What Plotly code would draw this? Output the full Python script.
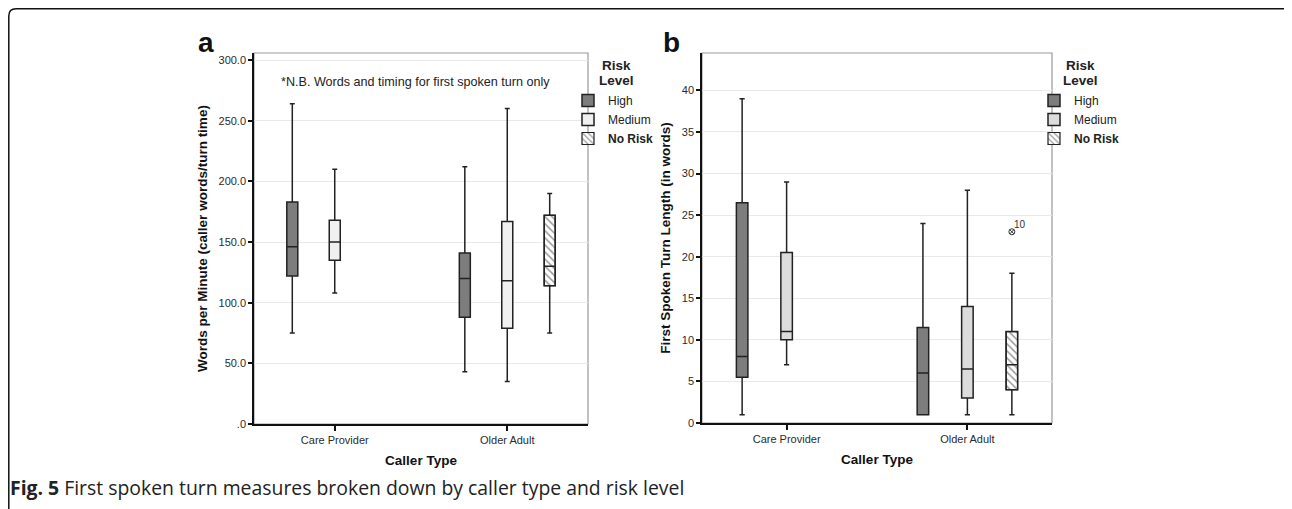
import plotly.graph_objects as go

# page body has an 8px default margin; the figure is drawn 8px in from the window edge
OFF = 8
W, H = 1292 - OFF, 509 - OFF

# ---------------- data ----------------
categories = ["Care Provider", "Older Adult"]
nr_categories = ["Older Adult"]

# Panel a: Words per Minute
a_high_low = [75, 43]
a_high_q1 = [122, 88]
a_high_med = [146, 120]
a_high_q3 = [183, 141]
a_high_up = [264, 212]

a_med_low = [108, 35]
a_med_q1 = [135, 79]
a_med_med = [150, 118]
a_med_q3 = [168, 167]
a_med_up = [210, 260]

a_nr_low = [75]
a_nr_q1 = [114]
a_nr_med = [130]
a_nr_q3 = [172]
a_nr_up = [190]

a_ticks = [0, 50, 100, 150, 200, 250, 300]
a_ticktext = [".0", "50.0", "100.0", "150.0", "200.0", "250.0", "300.0"]

# Panel b: First Spoken Turn Length
b_high_low = [1, 1]
b_high_q1 = [5.5, 1]
b_high_med = [8, 6]
b_high_q3 = [26.5, 11.5]
b_high_up = [39, 24]

b_med_low = [7, 1]
b_med_q1 = [10, 3]
b_med_med = [11, 6.5]
b_med_q3 = [20.5, 14]
b_med_up = [29, 28]

b_nr_low = [1]
b_nr_q1 = [4]
b_nr_med = [7]
b_nr_q3 = [11]
b_nr_up = [18]
b_nr_outliers = [[23]]
b_nr_outlier_labels = ["10"]

b_ticks = [0, 5, 10, 15, 20, 25, 30, 35, 40]
b_ticktext = [str(v) for v in b_ticks]

# ---------------- style ----------------
FONT = "Liberation Sans, Arial, sans-serif"
HIGH_FILL = "#7d7d7d"
MED_FILL_A = "#f0f0f0"
MED_FILL_B = "#dcdcdc"
LINE_C = "#222222"
TICK_C = "#2b2b2b"
BOX_GAP = 0.262
BOX_GROUPGAP = 0.741
N_GROUPS = 3
half_w = 0.5 * (1 - BOX_GAP) * (1 - BOX_GROUPGAP) / N_GROUPS
nr_center = (1 - BOX_GAP) * (-0.5 + (2 + 0.5) / N_GROUPS)
nr_offset = nr_center - half_w


def X(px):
    return (px - OFF) / W


def Y(py):
    return 1 - (py - OFF) / H


fig = go.Figure()


def add_panel(xa, ya, leg, high, med, nr, med_fill, outliers=None):
    common = dict(whiskerwidth=0.45, xaxis=xa, yaxis=ya, legend=leg,
                  orientation="v", hoverinfo="skip", alignmentgroup="g" + xa)
    lo, q1, md, q3, up = high
    fig.add_trace(go.Box(
        x=categories, lowerfence=lo, q1=q1, median=md, q3=q3, upperfence=up,
        name="High", fillcolor=HIGH_FILL, line=dict(color=LINE_C, width=1.5),
        boxpoints=False, offsetgroup="1", **common))
    lo, q1, md, q3, up = med
    fig.add_trace(go.Box(
        x=categories, lowerfence=lo, q1=q1, median=md, q3=q3, upperfence=up,
        name="Medium", fillcolor=med_fill, line=dict(color=LINE_C, width=1.5),
        boxpoints=False, offsetgroup="2", **common))
    lo, q1, md, q3, up = nr
    fig.add_trace(go.Bar(
        x=nr_categories, y=[b - a for a, b in zip(q1, q3)], base=q1,
        width=2 * half_w, offset=nr_offset, name="<b>No Risk</b>",
        marker=dict(color="white", line=dict(color=LINE_C, width=1.2),
                    pattern=dict(shape="\\", fgcolor="#333333", bgcolor="white",
                                 size=5, solidity=0.3)),
        xaxis=xa, yaxis=ya, legend=leg, hoverinfo="skip"))
    box_kw = dict(boxpoints=False)
    if outliers is not None:
        box_kw = dict(y=outliers, boxpoints="outliers", pointpos=0, jitter=0,
                      marker=dict(symbol="circle-x-open", size=6, color="#333333",
                                  line=dict(width=1)))
    fig.add_trace(go.Box(
        x=nr_categories, lowerfence=lo, q1=q1, median=md, q3=q3, upperfence=up,
        name="No Risk", fillcolor="rgba(0,0,0,0)", line=dict(color=LINE_C, width=1.5),
        showlegend=False, offsetgroup="3", **common, **box_kw))


add_panel("x", "y", "legend",
          (a_high_low, a_high_q1, a_high_med, a_high_q3, a_high_up),
          (a_med_low, a_med_q1, a_med_med, a_med_q3, a_med_up),
          (a_nr_low, a_nr_q1, a_nr_med, a_nr_q3, a_nr_up), MED_FILL_A)
add_panel("x2", "y2", "legend2",
          (b_high_low, b_high_q1, b_high_med, b_high_q3, b_high_up),
          (b_med_low, b_med_q1, b_med_med, b_med_q3, b_med_up),
          (b_nr_low, b_nr_q1, b_nr_med, b_nr_q3, b_nr_up), MED_FILL_B,
          outliers=b_nr_outliers)

xcommon = dict(type="category", categoryorder="array", categoryarray=categories,
               range=[-0.468, 1.468], showline=True, linecolor="#111111", linewidth=1.5,
               ticks="outside", ticklen=5, tickwidth=1.5, tickcolor="#111111",
               tickfont=dict(family=FONT, size=11, color=TICK_C),
               showgrid=False, zeroline=False, automargin=False, fixedrange=True)
ycommon = dict(showline=True, linecolor="#111111", linewidth=1.5,
               ticks="outside", ticklen=4, tickwidth=1.5, tickcolor="#111111",
               tickfont=dict(family=FONT, size=11, color=TICK_C),
               showgrid=True, gridcolor="#e9e9e9", gridwidth=1,
               zeroline=False, automargin=False, fixedrange=True)
title_font = dict(family=FONT, size=13.5, color="#111111")

fig.update_layout(
    width=W, height=H,
    margin=dict(l=0, r=0, t=0, b=0),
    paper_bgcolor="white", plot_bgcolor="white",
    boxmode="group", boxgap=BOX_GAP, boxgroupgap=BOX_GROUPGAP,
    barmode="overlay",
    xaxis=dict(domain=[X(254), X(588)], anchor="y",
               title=dict(text="<b>Caller Type</b>", font=title_font, standoff=11), **xcommon),
    yaxis=dict(domain=[Y(424), Y(53)], anchor="x", range=[0, 305.8],
               tickvals=a_ticks, ticktext=a_ticktext,
               title=dict(text="<b>Words per Minute (caller words/turn time)</b>",
                          font=title_font, standoff=8), **ycommon),
    xaxis2=dict(domain=[X(702), X(1052)], anchor="y2",
                title=dict(text="<b>Caller Type</b>", font=title_font, standoff=11), **xcommon),
    yaxis2=dict(domain=[Y(423), Y(53)], anchor="x2", range=[0, 44.5],
                tickvals=b_ticks, ticktext=b_ticktext,
                title=dict(text="<b>First Spoken Turn Length (in words)</b>",
                           font=title_font, standoff=8), **ycommon),
    legend=dict(x=X(568), xanchor="left", y=Y(86), yanchor="top",
                bgcolor="rgba(0,0,0,0)", traceorder="normal",
                font=dict(family=FONT, size=12, color="#222222")),
    legend2=dict(x=X(1034), xanchor="left", y=Y(86), yanchor="top",
                 bgcolor="rgba(0,0,0,0)", traceorder="normal",
                 font=dict(family=FONT, size=12, color="#222222")),
    showlegend=True,
)

# plot-area frames (top/right in grey)
for xr, yr in (("x domain", "y domain"), ("x2 domain", "y2 domain")):
    fig.add_shape(type="rect", xref=xr, yref=yr, x0=0, x1=1, y0=0, y1=1,
                  line=dict(color="#9a9a9a", width=1.2), layer="below")

# outer figure frame with rounded corners
frame_path = (f"M {X(8.8)},{Y(509)} L {X(8.8)},{Y(16)} Q {X(8.8)},{Y(8.8)} {X(16)},{Y(8.8)} "
              f"L {X(1286)},{Y(8.8)} Q {X(1290)},{Y(8.8)} {X(1292)},{Y(11)}")
fig.add_shape(type="path", xref="paper", yref="paper", path=frame_path,
              line=dict(color="#111111", width=1.5))

legend_title_font = dict(family=FONT, size=13.5, color="#222222")
annots = [
    dict(text="<b>a</b>", x=X(206), y=Y(43), font=dict(family=FONT, size=28, color="#111111")),
    dict(text="<b>b</b>", x=X(672), y=Y(42), font=dict(family=FONT, size=28, color="#111111")),
    dict(text="*N.B. Words and timing for first spoken turn only", x=X(415), y=Y(82),
         font=dict(family=FONT, size=12.6, color="#222222")),
    dict(text="<b>Risk</b>", x=X(616), y=Y(66), font=legend_title_font),
    dict(text="<b>Level</b>", x=X(616), y=Y(80), font=legend_title_font),
    dict(text="<b>Risk</b>", x=X(1080), y=Y(66), font=legend_title_font),
    dict(text="<b>Level</b>", x=X(1080), y=Y(80), font=legend_title_font),
]
for a in annots:
    fig.add_annotation(xref="paper", yref="paper", showarrow=False,
                       xanchor="center", yanchor="middle", **a)

fig.add_annotation(xref="x2", yref="y2", x=nr_categories[0], y=b_nr_outliers[0][0],
                   text=b_nr_outlier_labels[0], showarrow=False, xshift=53, yshift=7,
                   font=dict(family=FONT, size=10, color="#333333"))

fig.add_annotation(xref="paper", yref="paper", x=X(8), y=Y(487), xanchor="left", yanchor="middle",
                   showarrow=False,
                   text="<b>Fig. 5</b> First spoken turn measures broken down by caller type and risk level",
                   font=dict(family="Open Sans, sans-serif", size=19.4, color="#222222"))

fig.write_html("out.html", config={"displayModeBar": False})
